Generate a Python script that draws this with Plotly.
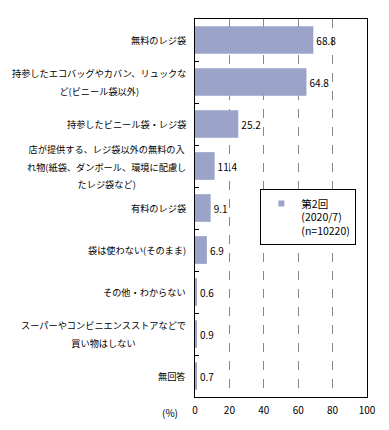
import plotly.graph_objects as go

categories = [
    "無料のレジ袋",
    "持参したエコバッグやカバン、リュックな<br>ど(ビニール袋以外)",
    "持参したビニール袋・レジ袋",
    "店が提供する、レジ袋以外の無料の入<br>れ物(紙袋、ダンボール、環境に配慮し<br>たレジ袋など)",
    "有料のレジ袋",
    "袋は使わない(そのまま)",
    "その他・わからない",
    "スーパーやコンビニエンスストアなどで<br>買い物はしない",
    "無回答",
]
values = [68.8, 64.8, 25.2, 11.4, 9.1, 6.9, 0.6, 0.9, 0.7]
series_name = "第2回<br>(2020/7)<br>(n=10220)"
x_ticks = [0, 20, 40, 60, 80, 100]

FONT = "Noto Sans CJK JP"
BAR = "#9BA3C9"
fig = go.Figure()
fig.add_trace(go.Bar(
    y=categories, x=values, orientation="h", name=series_name,
    marker=dict(color=BAR, line=dict(width=0)),
    text=[f"{v:.1f}" for v in values], textposition="outside",
    textfont=dict(size=10, color="#000", family=FONT),
    cliponaxis=False, width=0.66, showlegend=False,
))
# legend entry with small square marker
fig.add_trace(go.Scatter(
    x=[None], y=[None], mode="markers", name=series_name,
    marker=dict(symbol="square", size=6, color=BAR), showlegend=True,
))


def styled(label):
    return "<br>".join(f'<span style="font-size:9.2px">{p}</span>'
                       for p in label.split("<br>"))


for c in categories:
    fig.add_annotation(x=0, xref="paper", y=c, yref="y", text=styled(c),
                       xanchor="right", align="center", xshift=-7,
                       showarrow=False, font=dict(size=13.5, color="#000", family=FONT))

fig.add_annotation(x=0, xref="paper", y=0, yref="paper", text="(%)",
                   xanchor="right", yanchor="middle", xshift=-15, yshift=-15,
                   showarrow=False, font=dict(size=10, color="#000", family=FONT))

fig.update_layout(
    width=381, height=422,
    margin=dict(l=187, r=22, t=11, b=33, autoexpand=False),
    plot_bgcolor="white", paper_bgcolor="white",
    font=dict(family=FONT, size=10, color="#000"),
    showlegend=True,
    legend=dict(x=0.38, y=0.55, xanchor="left", yanchor="top",
                bordercolor="#000", borderwidth=1, bgcolor="white",
                font=dict(size=10.5, family=FONT), itemwidth=30,
                valign="top", tracegroupgap=0),
    xaxis=dict(range=[0, 100], tickvals=x_ticks, showgrid=True,
               gridcolor="#888", griddash="dash", gridwidth=1,
               showline=True, linecolor="#000", linewidth=1, mirror=True,
               ticks="", zeroline=False, tickfont=dict(size=10),
               ticklabelstandoff=4, automargin=False),
    yaxis=dict(autorange="reversed", showticklabels=False,
               ticks="inside", ticklen=4, tickcolor="#000",
               tickson="boundaries", automargin=False,
               showline=True, linecolor="#000", linewidth=1, mirror=True,
               showgrid=False),
)

fig.write_html("out.html")
